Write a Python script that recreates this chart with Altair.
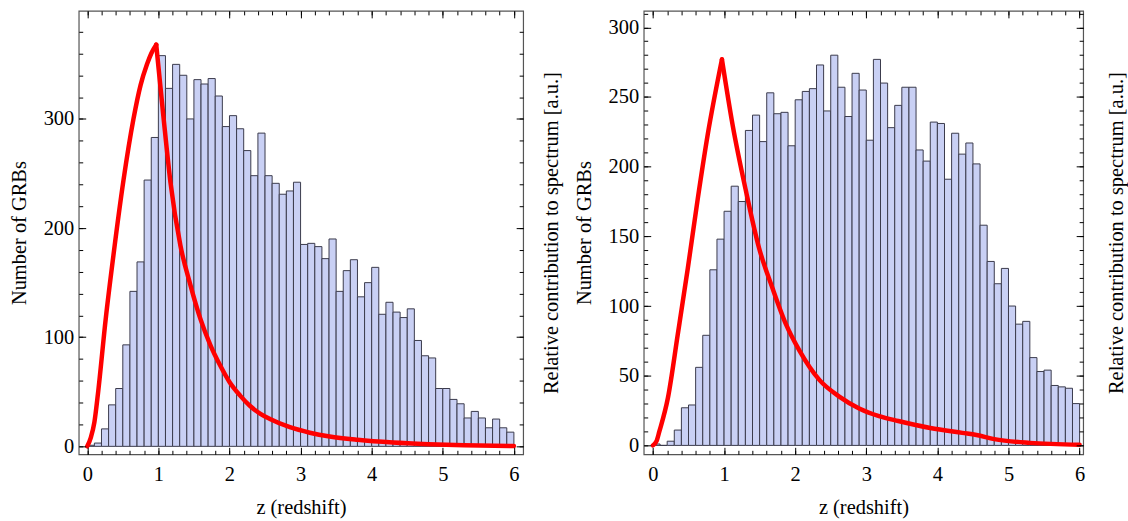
import altair as alt
import pandas as pd

# ---------------- data ----------------
BIN_WIDTH = 0.1

left_counts = [1, 3, 16, 38, 53, 93, 142, 169, 244, 283,
               358, 328, 350, 340, 300, 336, 332, 337, 321, 293,
               303, 291, 271, 248, 287, 248, 241, 231, 234, 242,
               185, 186, 183, 172, 190, 142, 161, 171, 137, 150,
               164, 121, 132, 123, 118, 126, 97, 83, 81, 53,
               53, 43, 39, 26, 32, 26, 17, 25, 17, 13]

right_counts = [1, 0, 3, 11, 27, 29, 56, 79, 126, 148,
                168, 186, 175, 226, 237, 218, 253, 238, 239, 215,
                248, 254, 256, 273, 240, 280, 257, 236, 267, 255,
                219, 277, 260, 228, 244, 257, 257, 212, 204, 232,
                231, 191, 224, 209, 217, 202, 158, 132, 116, 127,
                100, 87, 89, 63, 53, 54, 43, 42, 41, 30]

# curve: rising branch (up to the peak) and falling branch (from the peak)
left_rise_z = [0, 0.05, 0.1, 0.15, 0.26, 0.37, 0.51, 0.65, 0.75, 0.84, 0.9, 0.97]
left_rise_v = [0, 8, 22, 48, 117, 176, 244, 300, 331, 350, 360, 368]
left_fall_z = [0.97, 1.07, 1.17, 1.31, 1.45, 1.59, 1.73, 1.87, 2.0, 2.15, 2.29,
               2.43, 2.57, 2.85, 3.13, 3.41, 3.8, 4.3, 4.8, 5.3, 6.0]
left_fall_v = [368, 303, 242, 184, 148, 117, 93, 74, 59, 46.5, 37,
               30, 25, 17.5, 12.5, 9, 6, 3.5, 2, 1, 0.3]

right_rise_z = [0, 0.05, 0.09, 0.21, 0.35, 0.49, 0.63, 0.77, 0.97]
right_rise_v = [0, 3, 10, 34, 80, 127, 177, 223, 277]
right_fall_z = [0.97, 1.12, 1.31, 1.49, 1.68, 1.87, 2.06, 2.34, 2.62, 2.9, 3.18,
                3.45, 3.9, 4.35, 4.55, 4.8, 5.3, 6.0]
right_fall_v = [277, 230, 182, 142, 113, 87, 68, 47, 35, 26.5, 21,
                17.5, 12.5, 9, 7.5, 4.5, 1.8, 0.5]

x_major = [0, 1, 2, 3, 4, 5, 6]
x_minor = [round(i * 0.2, 1) for i in range(31)]
left_y_major = [0, 100, 200, 300]
left_y_minor = list(range(0, 400, 20))
right_y_major = [0, 50, 100, 150, 200, 250, 300]
right_y_minor = list(range(0, 320, 10))

X_TITLE = "z (redshift)"
Y_TITLE = "Number of GRBs"
Y2_TITLE = "Relative contribution to spectrum [a.u.]"

FONT = "Liberation Serif"
FS = 20.5
MAJ = 7
MIN = 4


def axis(orient, values, size, labels=False, title=None, title_pad=0, label_pad=5,
         fmt="d", angle=None, baseline=None):
    kw = dict(orient=orient, values=values, tickSize=size, offset=-size,
              labels=labels, title=title, domain=False, grid=False,
              tickColor="black", tickWidth=1, labelFont=FONT, labelFontSize=FS,
              labelColor="black", labelPadding=label_pad, titleFont=FONT,
              titleFontSize=FS, titleFontWeight="normal", titleColor="black",
              titlePadding=title_pad, format=fmt, zindex=2)
    if angle is not None:
        kw["titleAngle"] = angle
    if baseline is not None:
        kw["titleBaseline"] = baseline
    return alt.Axis(**kw)


def panel(counts, rz, rv, fz, fv, xdom, ydom, ymaj, ymin, w, h, y2pad):
    bars = pd.DataFrame({
        "x0": [round(i * BIN_WIDTH, 1) for i in range(len(counts))],
        "x1": [round((i + 1) * BIN_WIDTH, 1) for i in range(len(counts))],
        "n": counts,
        "b": [0] * len(counts),
    })
    curve = pd.DataFrame({
        "z": rz + fz,
        "v": rv + fv,
        "branch": ["rise"] * len(rz) + ["fall"] * len(fz),
    })
    xs = alt.Scale(domain=xdom, nice=False, zero=False)
    ys = alt.Scale(domain=ydom, nice=False, zero=False)

    hist = alt.Chart(bars).mark_rect(
        fill="#c9d0f4", stroke="#3b3b4c", strokeWidth=1
    ).encode(
        x=alt.X("x0:Q", scale=xs,
                axis=axis("bottom", x_major, MAJ, labels=True, title=X_TITLE,
                          title_pad=13, label_pad=10)),
        x2="x1:Q",
        y=alt.Y("n:Q", scale=ys,
                axis=axis("left", ymaj, MAJ, labels=True, title=Y_TITLE,
                          title_pad=14, label_pad=5)),
        y2="b:Q",
    )
    line = alt.Chart(curve).mark_line(
        color="#ff0000", strokeWidth=4.5, strokeJoin="miter", strokeCap="round",
        interpolate="monotone"
    ).encode(
        x=alt.X("z:Q", scale=xs, axis=axis("bottom", x_minor, MIN, fmt=".1f")),
        y=alt.Y("v:Q", scale=ys, axis=axis("left", ymin, MIN)),
        detail="branch:N",
    )
    top_right_major = alt.Chart(curve).mark_point(opacity=0).encode(
        x=alt.X("z:Q", scale=xs, axis=axis("top", x_major, MAJ)),
        y=alt.Y("v:Q", scale=ys,
                axis=axis("right", ymaj, MAJ, title=Y2_TITLE, title_pad=y2pad,
                          angle=270, baseline="top")),
    )
    top_right_minor = alt.Chart(curve).mark_point(opacity=0).encode(
        x=alt.X("z:Q", scale=xs, axis=axis("top", x_minor, MIN, fmt=".1f")),
        y=alt.Y("v:Q", scale=ys, axis=axis("right", ymin, MIN)),
    )
    return alt.layer(hist, line, top_right_major, top_right_minor).resolve_axis(
        x="independent", y="independent"
    ).properties(width=w, height=h)


left = panel(left_counts, left_rise_z, left_rise_v, left_fall_z, left_fall_v,
             [-0.12, 6.13], [-7.3, 399], left_y_major, left_y_minor, 446, 445, 18)
right = panel(right_counts, right_rise_z, right_rise_v, right_fall_z, right_fall_v,
              [-0.13, 6.05], [-6.4, 311.8], right_y_major, right_y_minor, 441, 445, 23)

chart = alt.hconcat(left, right, spacing=10).properties(
    padding={"left": 8, "top": 8, "right": 0, "bottom": 0},
    background="white",
).configure_view(stroke="#555555", strokeWidth=1.2)

chart.save("out.html", embed_options={"renderer": "svg", "actions": False})
